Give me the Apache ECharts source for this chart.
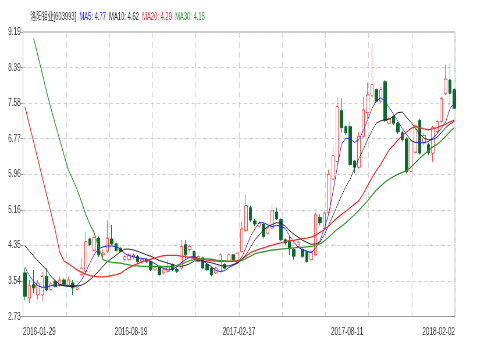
<!DOCTYPE html>
<html><head><meta charset="utf-8">
<script src="https://cdn.jsdelivr.net/npm/echarts@6/dist/echarts.min.js"></script>
<style>
html,body{margin:0;padding:0;background:#fff;overflow:hidden;width:477px;height:351px}
#c{width:820px;height:351px;transform:scaleX(0.58171);transform-origin:0 0}
</style></head><body><div id="c"></div>
<script>
const dates = ['2016-01-29','2016-02-05','2016-02-19','2016-02-26','2016-03-04','2016-03-11','2016-03-18','2016-03-25','2016-04-01','2016-04-08',
'2016-04-15','2016-04-22','2016-05-20','2016-05-27','2016-06-03','2016-06-10','2016-06-17','2016-06-24','2016-07-01','2016-07-08',
'2016-07-15','2016-07-22','2016-07-29','2016-08-05','2016-08-12','2016-08-19','2016-08-26','2016-09-02','2016-09-09','2016-09-14',
'2016-09-23','2016-09-30','2016-10-14','2016-10-21','2016-10-28','2016-11-04','2016-11-11','2016-11-18','2016-11-25','2016-12-02',
'2016-12-09','2016-12-16','2016-12-23','2016-12-30','2017-01-06','2017-01-13','2017-01-20','2017-01-26','2017-02-03','2017-02-10',
'2017-02-17','2017-02-24','2017-03-03','2017-03-10','2017-03-17','2017-03-24','2017-03-31','2017-04-07','2017-04-14','2017-04-21',
'2017-04-28','2017-05-05','2017-05-12','2017-05-19','2017-05-26','2017-06-02','2017-06-09','2017-06-16','2017-06-23','2017-06-30',
'2017-07-07','2017-07-14','2017-07-21','2017-07-28','2017-08-04','2017-08-11','2017-08-18','2017-08-25','2017-09-01','2017-09-08',
'2017-09-15','2017-09-22','2017-09-29','2017-10-13','2017-10-20','2017-10-27','2017-11-03','2017-11-10','2017-11-17','2017-11-24',
'2017-12-01','2017-12-08','2017-12-15','2017-12-22','2017-12-29','2018-01-05','2018-01-12','2018-01-19','2018-01-26','2018-02-02'];

const tickLabels = ['2016-01-29','2016-08-19','2017-02-17','2017-08-11','2018-02-02'];
const yTickLabels = ['2.73','3.54','4.35','5.16','5.96','6.77','7.58','8.39','9.19'];

const opens = [3.72,3.15,3.45,3.22,3.22,3.64,3.34,3.53,3.45,3.56, 3.44,3.49,3.34,3.68,3.75,4.49,4.23,4.51,4.13,4.21,
4.49,4.38,4.28,4.02,4.02,4.08,4.09,3.98,4.03,3.98, 3.79,3.87,3.72,3.75,3.91,3.80,3.83,4.36,4.25,4.21,
3.98,4.06,3.91,3.83,3.72,3.75,3.91,3.98,4.13,3.96, 4.20,4.68,5.20,4.90,4.78,4.82,4.62,4.74,5.10,4.93,
4.47,4.43,4.25,4.32,4.25,4.21,4.02,4.13,4.98,4.72, 5.10,5.85,6.25,7.40,7.04,7.04,6.26,6.12,6.82,7.36,
7.74,7.88,7.62,8.06,7.12,7.27,7.12,6.90,6.76,6.02, 6.46,7.18,6.67,6.63,6.44,6.93,7.16,7.80,8.10,7.88];
const closes = [3.19,3.43,3.38,3.49,3.64,3.34,3.47,3.41,3.56,3.45, 3.56,3.38,3.38,3.83,4.43,4.36,4.53,4.13,4.17,4.51,
4.38,4.23,4.21,4.09,4.13,4.12,3.98,4.03,3.98,3.79, 3.84,3.68,3.79,3.87,3.79,3.76,4.32,4.13,4.32,4.06,
4.09,3.83,3.79,3.68,3.83,4.13,3.83,4.13,4.02,4.17, 4.72,5.25,4.92,4.83,4.84,4.55,4.74,5.13,4.95,4.47,
4.40,4.28,4.10,4.42,4.10,3.98,4.21,5.04,4.86,5.08, 5.96,6.38,7.50,7.02,6.90,6.18,6.12,6.82,7.42,7.76,
8.00,7.62,7.88,7.18,7.22,7.12,6.92,6.75,6.02,6.72, 7.06,6.44,6.84,6.45,7.02,7.16,7.68,8.12,7.80,7.46];
const lows = [3.10,3.04,3.26,3.12,3.07,3.30,3.30,3.38,3.40,3.42, 3.41,3.22,3.31,3.64,3.72,4.32,4.21,4.08,4.06,4.17,
4.36,4.19,4.17,3.98,3.99,4.03,3.95,3.94,3.94,3.76, 3.75,3.64,3.68,3.72,3.76,3.72,3.79,4.05,4.20,4.02,
3.95,3.80,3.76,3.64,3.70,3.73,3.80,3.95,3.98,3.94, 4.18,4.65,4.88,4.78,4.74,4.50,4.58,4.72,4.92,4.44,
4.36,4.13,4.02,4.28,4.06,3.94,3.98,4.10,4.80,4.70, 5.05,5.80,6.20,6.90,6.85,6.12,5.98,6.08,6.78,7.22,
7.68,7.58,7.58,7.14,7.08,7.08,6.88,6.70,5.98,5.80, 6.40,6.40,6.62,6.40,6.24,6.88,7.12,7.76,7.50,7.42];
const highs = [3.83,3.56,3.79,3.56,3.75,3.83,3.53,3.58,3.64,3.60, 3.64,3.56,3.40,4.06,4.66,4.55,4.70,4.55,4.25,4.91,
4.81,4.43,4.32,4.13,4.17,4.16,4.13,4.06,4.05,4.00, 3.87,3.90,3.81,4.02,3.93,3.84,4.47,4.47,4.36,4.24,
4.13,4.09,3.94,3.86,3.86,4.17,3.94,4.18,4.16,4.21, 4.88,5.50,5.25,4.95,4.90,4.86,4.78,5.27,5.20,4.96,
4.50,4.55,4.28,4.46,4.28,4.24,4.25,5.08,5.05,5.12, 6.06,6.59,7.70,7.69,7.08,7.16,6.28,6.92,7.72,8.04,
8.93,7.92,7.95,8.10,7.26,7.30,7.15,6.95,6.80,6.76, 7.10,7.22,6.90,6.67,7.06,7.20,7.72,8.44,8.48,7.92];

const ma5 = [3.85,3.66,3.52,3.43,3.39,3.40,3.43,3.45,3.44,3.43, 3.43,3.43,3.43,3.55,3.74,3.95,4.14,4.27,4.31,4.33,
4.33,4.32,4.26,4.16,4.11,4.09,4.06,4.05,4.03,3.98, 3.93,3.86,3.82,3.79,3.80,3.86,3.95,4.02,4.08,4.09,
4.05,3.99,3.93,3.86,3.78,3.75,3.77,3.84,3.89,3.94, 4.08,4.30,4.55,4.72,4.86,4.86,4.81,4.77,4.80,4.78,
4.73,4.56,4.42,4.30,4.25,4.21,4.18,4.28,4.45,4.72, 5.05,5.55,6.12,6.65,6.78,6.76,6.68,6.75,6.95,7.19,
7.45,7.62,7.70,7.62,7.47,7.32,7.16,7.00,6.86,6.73, 6.68,6.67,6.68,6.70,6.78,6.88,7.00,7.15,7.45,7.58];
const ma10 = [4.34,4.22,4.10,3.99,3.89,3.79,3.64,3.54,3.46,3.43, 3.41,3.41,3.42,3.44,3.49,3.57,3.66,3.76,3.87,3.97,
4.05,4.12,4.20,4.26,4.26,4.24,4.21,4.17,4.13,4.10, 4.05,4.00,3.97,3.94,3.91,3.88,3.87,3.89,3.93,3.99,
4.00,3.99,3.97,3.95,3.92,3.89,3.87,3.88,3.91,3.95, 4.02,4.14,4.30,4.47,4.58,4.70,4.77,4.82,4.86,4.85,
4.78,4.68,4.60,4.53,4.46,4.41,4.37,4.38,4.42,4.58, 4.80,5.02,5.25,5.48,5.68,5.85,6.10,6.32,6.52,6.75,
6.95,7.12,7.17,7.20,7.21,7.28,7.36,7.37,7.25,7.14, 7.00,6.88,6.78,6.74,6.75,6.80,6.90,7.02,7.10,7.16];
const ma20 = [7.49,7.09,6.69,6.29,5.88,5.49,5.08,4.68,4.20,3.99, 3.93,3.86,3.79,3.74,3.69,3.66,3.64,3.63,3.63,3.64,
3.66,3.68,3.71,3.78,3.84,3.89,3.93,3.97,4.00,4.03, 4.06,4.09,4.11,4.12,4.12,4.12,4.10,4.09,4.07,4.05,
4.04,4.02,4.01,4.00,3.99,3.98,3.98,3.98,3.99,4.00, 4.04,4.10,4.18,4.22,4.26,4.29,4.32,4.35,4.38,4.40,
4.43,4.45,4.46,4.48,4.50,4.51,4.53,4.58,4.64,4.70, 4.78,4.88,4.97,5.05,5.12,5.20,5.28,5.36,5.52,5.70,
5.88,6.04,6.18,6.35,6.52,6.62,6.74,6.84,6.92,7.00, 7.04,7.02,6.99,6.97,6.99,7.02,7.06,7.10,7.15,7.19];
const ma30 = [null,null,9.05,8.65,8.24,7.83,7.45,7.10,6.75,6.40, 6.06,5.85,5.62,5.35,5.05,4.82,4.62,4.30,4.02,3.98,
3.96,3.95,3.94,3.92,3.90,3.88,3.88,3.87,3.87,3.87, 3.87,3.87,3.86,3.86,3.87,3.89,3.92,3.96,4.00,4.02,
4.03,4.04,4.04,4.03,4.01,4.00,3.99,3.98,3.98,3.98, 4.00,4.05,4.10,4.15,4.18,4.20,4.22,4.24,4.25,4.26,
4.27,4.28,4.29,4.30,4.30,4.31,4.32,4.34,4.38,4.44, 4.53,4.62,4.71,4.78,4.86,4.95,5.04,5.14,5.25,5.36,
5.48,5.60,5.69,5.78,5.85,5.91,5.96,6.00,6.04,6.12, 6.22,6.32,6.41,6.49,6.58,6.64,6.72,6.82,6.93,7.02];

const stockName = '洛阳钼业[603993]';
const maNames = ['MA5','MA10','MA20','MA30'];
const maLast = ['4.77','4.62','4.29','4.15'];
const maColors = ['#2323f0','#222222','#f22a2a','#2e962e'];

const F = "'Liberation Sans', Arial, 'Noto Sans CJK SC', sans-serif";
const pts = arr => arr.map((v, i) => v == null ? null : [i, v]).filter(p => p);
const candles = dates.map((d, i) => [i, opens[i], closes[i], lows[i], highs[i]]);

const chart = echarts.init(document.getElementById('c'), null, {renderer: 'canvas'});
const rich = {t: {color: '#333', fontSize: 10, fontFamily: F}};
['a','b','c','d'].forEach((k, j) => rich[k] = {color: maColors[j], fontSize: 10, fontFamily: F});
const titleText = '{t|' + stockName + '}  ' + ['a','b','c','d'].map((k, j) => '{' + k + '|' + maNames[j] + ': ' + maLast[j] + '}').join('  ');

chart.setOption({
  animation: false,
  backgroundColor: '#fff',
  title: {text: titleText, left: 47, top: 7, textStyle: {fontSize: 10, fontWeight: 'normal', fontFamily: F, rich: rich}},
  grid: {left: 39.5, right: 37.8, top: 32, bottom: 34.5, show: true, borderColor: '#999', borderWidth: 1, containLabel: false, outerBoundsMode: 'none'},
  xAxis: [
    {type: 'value', min: -0.45, max: 99.15, show: false},
    {type: 'value', min: 0, max: 10, interval: 1, axisLine: {show: false}, axisTick: {show: false}, axisLabel: {show: false},
     splitLine: {show: true, lineStyle: {color: '#cfcfcf', type: [6, 4], width: 1}}},
    {type: 'value', min: 0, max: 4, interval: 1, position: 'bottom', axisLine: {show: true, lineStyle: {color: '#999'}}, axisTick: {show: false},
     splitLine: {show: false},
     axisLabel: {formatter: v => tickLabels[v], color: '#333', fontSize: 11, fontFamily: F, margin: 10, alignMinLabel: 'left', alignMaxLabel: 'right', hideOverlap: false}}
  ],
  yAxis: [
    {type: 'value', min: 2.73, max: 9.19, show: false, splitLine: {show: false}},
    {type: 'value', min: 0, max: 8, interval: 1, position: 'left', axisLine: {show: true, lineStyle: {color: '#999'}},
     axisTick: {show: true, length: 4, lineStyle: {color: '#999'}},
     axisLabel: {formatter: v => yTickLabels[v], color: '#333', fontSize: 11, fontFamily: F, margin: 4},
     splitLine: {show: true, lineStyle: {color: '#cfcfcf', type: [5, 5], width: 1}}}
  ],
  series: [
    {type: 'candlestick', xAxisIndex: 0, yAxisIndex: 0, data: candles, encode: {x: 0, y: [1, 2, 3, 4]}, barWidth: 5, clip: false,
     itemStyle: {color: '#ffffff', color0: '#0b6b2e', borderColor: '#ff4a4a', borderColor0: '#0b6b2e', borderWidth: 1}},
    {type: 'line', name: 'MA5', xAxisIndex: 0, yAxisIndex: 0, data: pts(ma5), showSymbol: false, symbol: 'none', lineStyle: {color: maColors[0], width: 1}},
    {type: 'line', name: 'MA10', xAxisIndex: 0, yAxisIndex: 0, data: pts(ma10), showSymbol: false, symbol: 'none', lineStyle: {color: maColors[1], width: 1}},
    {type: 'line', name: 'MA20', xAxisIndex: 0, yAxisIndex: 0, data: pts(ma20), showSymbol: false, symbol: 'none', lineStyle: {color: maColors[2], width: 1.3}},
    {type: 'line', name: 'MA30', xAxisIndex: 0, yAxisIndex: 0, data: pts(ma30), showSymbol: false, symbol: 'none', lineStyle: {color: maColors[3], width: 1.3}}
  ]
});
</script></body></html>
